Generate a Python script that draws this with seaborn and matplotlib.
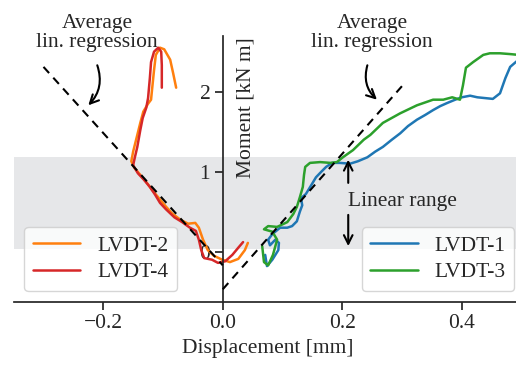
import numpy as np
import pandas as pd
import matplotlib
matplotlib.use("Agg")
import matplotlib.pyplot as plt
import seaborn as sns

# ---------------- data ----------------
lvdt1_x = [0.071, 0.074, 0.083, 0.093, 0.094, 0.088, 0.079, 0.076, 0.083, 0.096, 0.108, 0.116,
           0.124, 0.129, 0.133, 0.131, 0.139, 0.148, 0.156, 0.165, 0.173, 0.183, 0.196, 0.213,
           0.226, 0.242, 0.255, 0.268, 0.283, 0.297, 0.310, 0.325, 0.339, 0.352, 0.364, 0.376,
           0.389, 0.400, 0.414, 0.426, 0.439, 0.452, 0.464, 0.473, 0.481, 0.495]
lvdt1_y = [-0.04, -0.18, -0.10, 0.02, 0.11, 0.15, 0.08, 0.15, 0.22, 0.30, 0.30, 0.32,
           0.38, 0.50, 0.58, 0.67, 0.72, 0.83, 0.93, 1.00, 1.06, 1.11, 1.11, 1.10,
           1.13, 1.18, 1.25, 1.31, 1.40, 1.48, 1.57, 1.65, 1.71, 1.77, 1.82, 1.86,
           1.90, 1.93, 1.95, 1.93, 1.92, 1.91, 1.98, 2.17, 2.31, 2.40]

lvdt3_x = [0.066, 0.069, 0.076, 0.084, 0.091, 0.083, 0.069, 0.076, 0.091, 0.108, 0.118, 0.124,
           0.129, 0.134, 0.136, 0.138, 0.146, 0.163, 0.180, 0.191, 0.201, 0.218, 0.236, 0.247,
           0.268, 0.297, 0.325, 0.352, 0.369, 0.384, 0.397, 0.402, 0.407, 0.419, 0.436, 0.447,
           0.464, 0.481, 0.495]
lvdt3_y = [0.07, -0.13, -0.17, -0.04, 0.15, 0.25, 0.28, 0.32, 0.31, 0.37, 0.47, 0.56,
           0.68, 0.81, 0.96, 1.06, 1.11, 1.12, 1.11, 1.12, 1.18, 1.27, 1.40, 1.46,
           1.61, 1.73, 1.83, 1.90, 1.90, 1.93, 1.90, 2.08, 2.30, 2.37, 2.46, 2.48,
           2.48, 2.47, 2.46]

lvdt2_x = [0.042, 0.037, 0.026, 0.012, -0.001, -0.015, -0.025, -0.033, -0.040, -0.046, -0.058,
           -0.071, -0.085, -0.097, -0.108, -0.118, -0.128, -0.138, -0.148, -0.153, -0.150,
           -0.145, -0.138, -0.133, -0.125, -0.120, -0.118, -0.115, -0.112, -0.105, -0.098,
           -0.088, -0.083, -0.078]
lvdt2_y = [0.11, 0.02, -0.09, -0.13, -0.10, -0.05, 0.02, 0.15, 0.30, 0.36, 0.35,
           0.40, 0.48, 0.58, 0.68, 0.77, 0.87, 0.96, 1.05, 1.13, 1.25,
           1.40, 1.61, 1.75, 1.85, 1.90, 2.05, 2.27, 2.46, 2.55, 2.53,
           2.40, 2.23, 2.05]

lvdt4_x = [0.034, 0.026, 0.016, 0.004, -0.008, -0.018, -0.031, -0.036, -0.040, -0.045, -0.055,
           -0.068, -0.081, -0.095, -0.105, -0.113, -0.122, -0.132, -0.142, -0.150, -0.148,
           -0.143, -0.138, -0.134, -0.128, -0.125, -0.122, -0.120, -0.115, -0.108, -0.103,
           -0.102, -0.102]
lvdt4_y = [0.12, 0.05, -0.04, -0.12, -0.14, -0.10, -0.08, 0.02, 0.15, 0.26, 0.30,
           0.37, 0.43, 0.53, 0.61, 0.71, 0.81, 0.90, 0.98, 1.08, 1.15,
           1.31, 1.52, 1.67, 1.80, 1.92, 2.17, 2.37, 2.50, 2.55, 2.50,
           2.33, 2.05]

reg_left_x = [-0.30, 0.0]
reg_left_y = [2.31, -0.17]
reg_right_x = [0.0, 0.30]
reg_right_y = [-0.47, 2.07]

band_low, band_high = 0.035, 1.18

series_names = ["LVDT-1", "LVDT-2", "LVDT-3", "LVDT-4"]
series_colors = ["#1f77b4", "#ff7f0e", "#2ca02c", "#d62728"]
xticks = [-0.2, 0.0, 0.2, 0.4]
yticks = [0, 1, 2]

FS = 15.5

# ---------------- styling ----------------
sns.set_style("ticks")
plt.rcParams["font.family"] = ["Liberation Serif", "DejaVu Serif"]
plt.rcParams["font.size"] = FS
plt.rcParams["axes.linewidth"] = 1.25
plt.rcParams["xtick.major.width"] = 1.25
plt.rcParams["ytick.major.width"] = 1.25
plt.rcParams["xtick.major.size"] = 5.5
plt.rcParams["ytick.major.size"] = 5.5

fig = plt.figure(figsize=(5.16, 3.71), dpi=100)
ax = fig.add_axes([0.0264, 0.1868, 0.9843, 0.717])

ax.axhspan(band_low, band_high, color="#e6e7e9", lw=0, zorder=0)

data = {
    "LVDT-1": (lvdt1_x, lvdt1_y),
    "LVDT-2": (lvdt2_x, lvdt2_y),
    "LVDT-3": (lvdt3_x, lvdt3_y),
    "LVDT-4": (lvdt4_x, lvdt4_y),
}
handles = {}
for name, col in zip(series_names, series_colors):
    xs, ys = data[name]
    df = pd.DataFrame({"x": xs, "y": ys})
    sns.lineplot(data=df, x="x", y="y", sort=False, estimator=None, color=col,
                 lw=1.8, ax=ax, label=name, legend=False)
    handles[name] = ax.lines[-1]

ax.plot(reg_left_x, reg_left_y, ls=(0, (4, 3)), color="k", lw=1.5, zorder=3)
ax.plot(reg_right_x, reg_right_y, ls=(0, (4, 3)), color="k", lw=1.5, zorder=3)

ax.set_xlim(-0.35, 0.5)
ax.set_ylim(-0.625, 2.7)
ax.set_xticks(xticks)
ax.set_xticklabels([f"{t:.1f}".replace("-", "\u2212") for t in xticks], fontsize=FS)
ax.set_yticks(yticks)
ax.set_yticklabels([str(t) for t in yticks], fontsize=FS)
ax.spines["left"].set_position(("data", 0))
ax.spines["top"].set_visible(False)
ax.spines["right"].set_visible(False)

ax.set_xlabel("Displacement [mm]", fontsize=FS)
ax.set_ylabel("Moment [kN m]", fontsize=FS)
ax.yaxis.label.set_verticalalignment("center")
ax.yaxis.set_label_coords(0.457, 0.728)

# annotations
ax.text(-0.21, 2.73, "Average\nlin. regression", ha="center", va="center",
        fontsize=FS, linespacing=1.0)
ax.annotate("", xy=(-0.225, 1.83), xytext=(-0.210, 2.33),
            arrowprops=dict(arrowstyle="->", lw=1.5, color="k",
                            connectionstyle="arc3,rad=-0.3", shrinkA=0, shrinkB=0))
ax.text(0.25, 2.73, "Average\nlin. regression", ha="center", va="center",
        fontsize=FS, linespacing=1.0)
ax.annotate("", xy=(0.258, 1.90), xytext=(0.242, 2.33),
            arrowprops=dict(arrowstyle="->", lw=1.5, color="k",
                            connectionstyle="arc3,rad=0.3", shrinkA=0, shrinkB=0))

ax.text(0.21, 0.63, "Linear range", ha="left", va="center", fontsize=FS)
ax.annotate("", xy=(0.21, 1.15), xytext=(0.21, 0.86),
            arrowprops=dict(arrowstyle="->", lw=1.5, color="k", shrinkA=0, shrinkB=0))
ax.annotate("", xy=(0.21, 0.07), xytext=(0.21, 0.46),
            arrowprops=dict(arrowstyle="->", lw=1.5, color="k", shrinkA=0, shrinkB=0))

leg1 = ax.legend([handles["LVDT-2"], handles["LVDT-4"]], ["LVDT-2", "LVDT-4"],
                 loc="lower left", fontsize=FS, handlelength=2.2, borderaxespad=0.5,
                 labelspacing=0.3)
ax.add_artist(leg1)
leg2 = ax.legend([handles["LVDT-1"], handles["LVDT-3"]], ["LVDT-1", "LVDT-3"],
                 loc="lower left", bbox_to_anchor=(0.685, 0.04), fontsize=FS,
                 handlelength=2.2, borderaxespad=0.0, labelspacing=0.3)

fig.savefig("out.png", dpi=100)
